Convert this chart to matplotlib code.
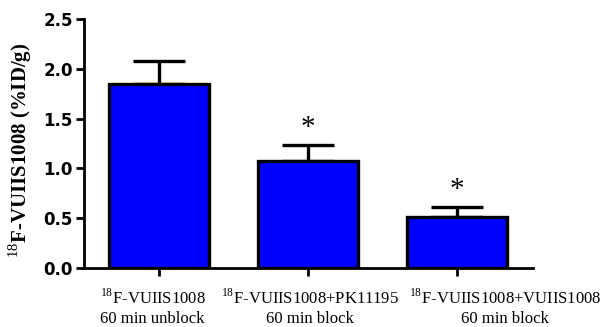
import matplotlib
matplotlib.use("Agg")
import matplotlib.pyplot as plt

plt.rcParams["mathtext.fontset"] = "custom"
plt.rcParams["mathtext.rm"] = "Liberation Serif"
plt.rcParams["mathtext.bf"] = "Liberation Serif:bold"

categories = [
    "$^{18}$F-VUIIS1008\n60 min unblock",
    "$^{18}$F-VUIIS1008+PK11195\n60 min block",
    "$^{18}$F-VUIIS1008+VUIIS1008\n60 min block",
]
means = [1.85, 1.07, 0.51]
errors = [0.23, 0.165, 0.10]
significant = [False, True, True]
y_ticks = [0.0, 0.5, 1.0, 1.5, 2.0, 2.5]

# horizontal nudge (points) of each category label relative to its tick
label_shift = [-4.5, 1.5, 34.5]

fig = plt.figure(figsize=(6.03, 3.27), dpi=100)
ax = fig.add_axes([0.139, 0.180, 0.745, 0.762])

x = list(range(len(categories)))
ax.bar(x, means, width=0.67, color="#0000ff", edgecolor="black", linewidth=2.4, zorder=2)
ax.errorbar(x, means, yerr=[[0] * len(errors), errors], fmt="none", ecolor="black",
            elinewidth=2.4, capsize=19, capthick=2.4, zorder=1)

for xi, m, e, sig in zip(x, means, errors, significant):
    if sig:
        ax.text(xi, m + e + 0.17, "*", ha="center", va="center", fontsize=21,
                family="Liberation Serif")

ax.set_xlim(-0.503, 2.51)
ax.set_ylim(0, 2.5)
ax.set_yticks(y_ticks)
ax.set_yticklabels([f"{v:.1f}" for v in y_ticks], fontsize=12, fontweight="bold",
                   family="DejaVu Sans")
ax.set_xticks(x)
ax.set_xticklabels([])

for xi, label, dx in zip(x, categories, label_shift):
    ax.annotate(label, xy=(xi, 0), xycoords=("data", "axes fraction"),
                xytext=(dx, -14.5), textcoords="offset points",
                ha="center", va="top", multialignment="center",
                fontsize=12, family="Liberation Serif", linespacing=1.25,
                annotation_clip=False)

for side in ["top", "right"]:
    ax.spines[side].set_visible(False)
for side in ["left", "bottom"]:
    ax.spines[side].set_linewidth(2.0)
ax.tick_params(axis="y", width=2.0, length=6, pad=2)
ax.tick_params(axis="x", width=2.0, length=6)

ax.set_ylabel("$^{18}$F-VUIIS1008 (%ID/g)", fontsize=15, fontweight="bold",
              family="Liberation Serif")
ax.yaxis.set_label_coords(-0.111, 0.474)

fig.savefig("out.png", dpi=100)
